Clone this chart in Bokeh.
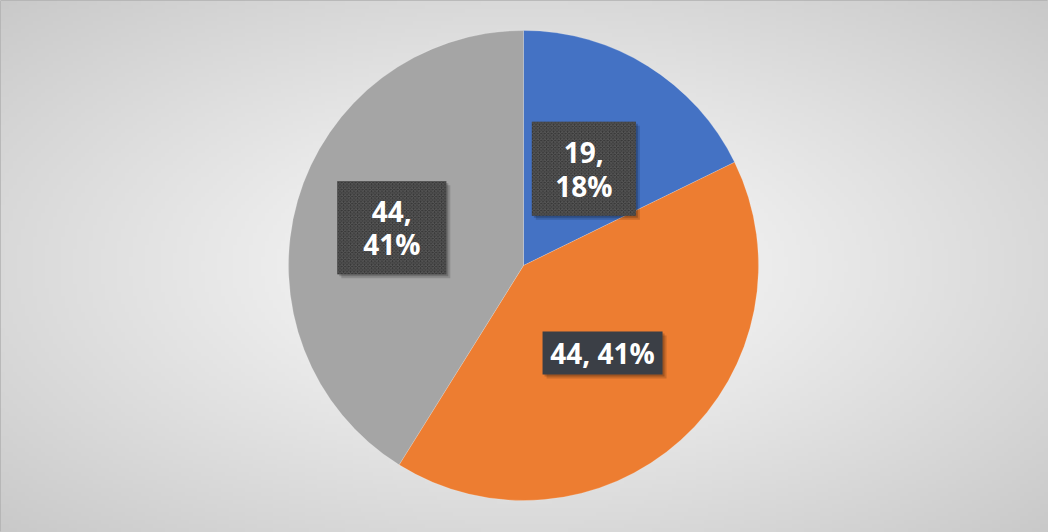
import numpy as np
from bokeh.plotting import figure
from bokeh.models import Range1d, ColumnDataSource
from bokeh.core.properties import value
from bokeh.embed import file_html
from bokeh.resources import INLINE

# ---- data ----
categories = ["A", "B", "C"]
values = [19, 44, 44]
colors = ["#4472C4", "#ED7D31", "#A5A5A5"]
separators = ["\n", " ", "\n"]

# ---- style ----
W, H = 1048, 532
cx, cy, R = 523, 267, 235
label_dist = [114, 118, 137]
box_w = [104, 120, 109]
box_h = [94, 43, 93]
box_hatch = ["diagonal_cross", " ", "diagonal_cross"]
box_fill = ["#363636", "#3b3f46", "#363636"]

total = sum(values)
fracs = [v / total for v in values]
cum = np.cumsum([0] + fracs)
start = [np.pi / 2 - 2 * np.pi * cum[i] for i in range(len(values))]
end = [np.pi / 2 - 2 * np.pi * cum[i + 1] for i in range(len(values))]
mid = [(s + e) / 2 for s, e in zip(start, end)]
lx = [cx + d * np.cos(m) for d, m in zip(label_dist, mid)]
ly = [cy + d * np.sin(m) for d, m in zip(label_dist, mid)]
texts = [f"{v},{sep}{round(f * 100)}%" for v, sep, f in zip(values, separators, fracs)]

p = figure(width=W, height=H, x_range=Range1d(0, W), y_range=Range1d(0, H),
           output_backend="svg", toolbar_location=None, min_border=0,
           background_fill_color="#e2e2e2", border_fill_color="#e2e2e2")
p.axis.visible = False
p.grid.visible = False
p.outline_line_color = "#b0b0b0"
p.outline_line_width = 1

# background radial gradient
gw, gh = 262, 133
xs = (np.arange(gw) + 0.5) / gw * 2 - 1
ys = (np.arange(gh) + 0.5) / gh * 2 - 1
X, Y = np.meshgrid(xs, ys)
d = np.sqrt((X ** 2 + Y ** 2) / 2)
g = (251 - 50 * d ** 1.1).clip(0, 255).astype(np.uint32)
img = (255 << 24) | (g << 16) | (g << 8) | g
p.image_rgba(image=[img.astype(np.uint32)], x=0, y=0, dw=W, dh=H)

src = ColumnDataSource(dict(cat=categories, start=start, end=end, color=colors))
p.wedge(x=cx, y=cy, radius=R, start_angle="start", end_angle="end",
        direction="clock", fill_color="color", line_color="#ffffff",
        line_width=0.3, line_alpha=0.6, source=src)

lsrc = ColumnDataSource(dict(x=lx, y=ly, w=box_w, h=box_h, t=texts, hp=box_hatch,
                             fc=box_fill,
                             sx=[x + 4 for x in lx], sy=[y - 4 for y in ly],
                             sx2=[x + 2 for x in lx], sy2=[y - 2 for y in ly]))
p.rect(x="sx", y="sy", width="w", height="h", fill_color="#000000", fill_alpha=0.15,
       line_color=None, source=lsrc)
p.rect(x="sx2", y="sy2", width="w", height="h", fill_color="#000000", fill_alpha=0.2,
       line_color=None, source=lsrc)
p.rect(x="x", y="y", width="w", height="h", fill_color="fc", line_color=None,
       hatch_pattern="hp", hatch_color="#5c5c5c", hatch_scale=3.5, hatch_weight=1,
       hatch_alpha=0.9, source=lsrc)
p.text(x="x", y="y", text="t", text_align="center", text_baseline="middle",
       text_font=value("Open Sans"), text_font_style="bold", text_font_size="28px",
       text_color="#ffffff", text_line_height=0.88, source=lsrc)

open("out.html", "w").write(file_html(p, INLINE))
